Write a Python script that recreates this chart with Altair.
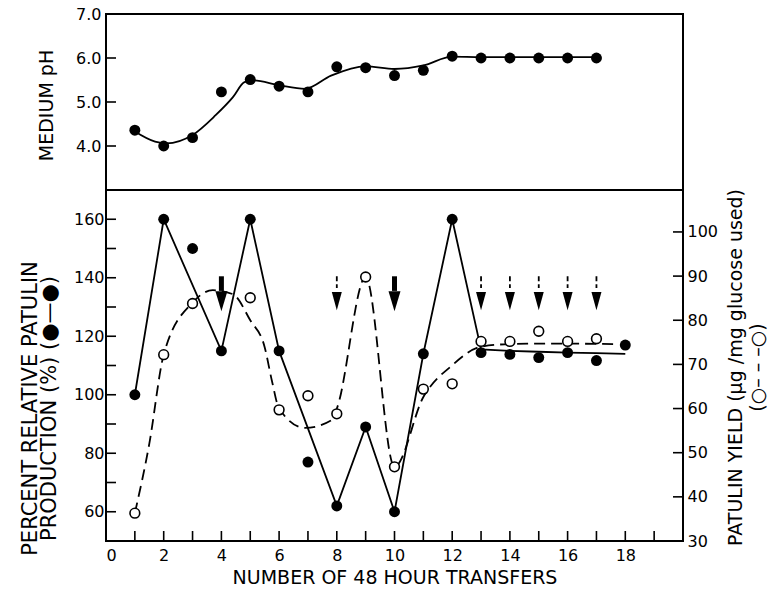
import altair as alt
import pandas as pd

# ---------------- data ----------------
ph_x = list(range(1, 18))
ph_vals = [4.36, 4.0, 4.19, 5.23, 5.51, 5.36, 5.23, 5.80, 5.78, 5.60, 5.72, 6.04, 6.0, 6.0, 6.0, 6.0, 6.0]
ph_curve_x = [1, 1.7, 2.1, 3, 3.8, 4.4, 4.8, 5.1, 6, 6.9, 7.8, 9, 10, 11, 12, 13, 14, 15, 16, 17]
ph_curve_y = [4.33, 4.10, 4.06, 4.25, 4.70, 5.11, 5.45, 5.49, 5.38, 5.30, 5.60, 5.81, 5.75, 5.83, 6.03, 6.02, 6.02, 6.02, 6.02, 6.02]

pct_x = list(range(1, 19))
pct_vals = [100, 160, 150, 115, 160, 115, 77, 62, 89, 60, 114, 160, 114.4, 113.8, 112.7, 114.4, 111.7, 117]
pct_line_x = [1, 2, 4, 5, 6, 8, 9, 10, 11, 12, 13, 14, 15, 16, 17, 18]
pct_line_y = [100, 160, 115, 160, 115, 62, 89, 60, 114, 160, 115.5, 115, 114.7, 114.4, 114.2, 114]

yield_x = [1, 2, 3, 5, 6, 7, 8, 9, 10, 11, 12, 13, 14, 15, 16, 17]
yield_vals = [36.3, 72.2, 83.8, 85.1, 59.7, 62.9, 58.8, 89.8, 46.8, 64.4, 65.6, 75.2, 75.2, 77.5, 75.2, 75.8]
yield_curve_x = [1, 1.5, 2, 3, 3.7, 4.4, 5, 5.5, 5.75, 6, 6.9, 7.8, 8, 9, 10, 11, 12, 13, 14, 15, 16, 17.6]
yield_curve_y = [36.3, 52, 72.2, 84, 86.8, 85.9, 80, 73.9, 66.3, 60, 55.6, 57.3, 60, 89.8, 46.8, 62.6, 69.8, 74, 74.6, 74.7, 74.7, 74.6]

bold_arrow_x = [4, 10]
dash_arrow_x = [8, 13, 14, 15, 16, 17]
arrow_top, arrow_base, arrow_head = 140.5, 135.5, 132.0

x_label_vals = list(range(0, 20))
x_tick_vals = list(range(1, 20))
pct_ticks = list(range(60, 170, 10))
yield_ticks = list(range(30, 110, 10))
ph_ticks = [4, 5, 6, 7]

XDOM = [0, 20]
PCT_DOM = [50, 170]
YLD_DOM = [30, 109.5]
PH_DOM = [3, 7]

# ---------------- frames ----------------
ph_pts = pd.DataFrame({"x": ph_x, "y": ph_vals})
ph_curve = pd.DataFrame({"x": ph_curve_x, "y": ph_curve_y})
pct_pts = pd.DataFrame({"x": pct_x, "y": pct_vals})
pct_line = pd.DataFrame({"x": pct_line_x, "y": pct_line_y})
yld_pts = pd.DataFrame({"x": yield_x, "y": yield_vals})
yld_curve = pd.DataFrame({"x": yield_curve_x, "y": yield_curve_y})
bold_arr = pd.DataFrame({"x": bold_arrow_x, "top": arrow_top, "base": arrow_base, "head": arrow_head})
dash_arr = pd.DataFrame({"x": dash_arrow_x, "top": arrow_top, "base": arrow_base + 1, "head": arrow_head})
# inward tick marks sit on the frame edges (domain limits)
x_tick_df = pd.DataFrame({"x": x_tick_vals, "y": PCT_DOM[0]})
pct_tick_df = pd.DataFrame({"x": XDOM[0], "y": pct_ticks})
yld_tick_df = pd.DataFrame({"x": XDOM[1], "y": yield_ticks})
ph_tick_df = pd.DataFrame({"x": XDOM[0], "y": ph_ticks})

FONT = "DejaVu Sans"
LBL = 16
TTL = 19

x_axis = alt.Axis(values=x_label_vals, labelExpr="datum.value % 2 == 0 && datum.value <= 18 ? datum.label : ''",
                  ticks=False, domain=False, grid=False,
                  labelPadding=6, labelFontSize=LBL, labelFont=FONT, labelColor="black",
                  title="NUMBER OF 48 HOUR TRANSFERS", titleFont=FONT, titleFontSize=TTL,
                  titleFontWeight="normal", titleColor="black", titlePadding=5)


def xenc(show=False):
    if show:
        return alt.X("x:Q", scale=alt.Scale(domain=XDOM, nice=False, zero=False), axis=x_axis)
    return alt.X("x:Q", scale=alt.Scale(domain=XDOM, nice=False, zero=False), axis=None)


TICK = dict(color="black", size=10, thickness=1.6, opacity=1)

# ---------------- top panel ----------------
ph_scale = alt.Scale(domain=PH_DOM, nice=False, zero=False)
ph_axis = alt.Axis(values=ph_ticks, format=".1f", ticks=False, domain=False, grid=False,
                   labelPadding=5, labelFontSize=LBL, labelFont=FONT,
                   labelColor="black", title="MEDIUM pH", titleFont=FONT, titleFontSize=TTL,
                   titleFontWeight="normal", titleColor="black", titleX=-60, titleY=91,
                   titleAngle=270, titleAlign="center", titleBaseline="middle")

top_line = alt.Chart(ph_curve).mark_line(color="black", strokeWidth=1.8, interpolate="monotone").encode(
    x=xenc(), y=alt.Y("y:Q", scale=ph_scale, axis=ph_axis))
top_pts = alt.Chart(ph_pts).mark_point(filled=True, color="black", size=120, opacity=1).encode(
    x=xenc(), y=alt.Y("y:Q", scale=ph_scale))
top_ticks = alt.Chart(ph_tick_df).mark_tick(orient="horizontal", xOffset=5, **TICK).encode(
    x=xenc(), y=alt.Y("y:Q", scale=ph_scale))
top = alt.layer(top_line, top_pts, top_ticks).properties(width=577, height=176)

# ---------------- bottom panel ----------------
pct_scale = alt.Scale(domain=PCT_DOM, nice=False, zero=False)
yld_scale = alt.Scale(domain=YLD_DOM, nice=False, zero=False)

pct_axis = alt.Axis(values=pct_ticks, labelExpr="datum.value % 20 == 0 ? datum.label : ''",
                    ticks=False, domain=False, grid=False,
                    labelPadding=2, labelFontSize=LBL, labelFont=FONT, labelColor="black",
                    title=["PERCENT RELATIVE PATULIN", "PRODUCTION (%) (\u25cf\u2014\u25cf)"],
                    titleFont=FONT, titleFontSize=21, titleFontWeight="normal", titleColor="black",
                    titleX=-76, titleY=218, titleAngle=270, titleAlign="center", titleBaseline="middle",
                    titleLineHeight=19)
yld_axis = alt.Axis(orient="right", values=yield_ticks, ticks=False, domain=False, grid=False,
                    labelPadding=4, labelFontSize=LBL, labelFont=FONT,
                    labelColor="black",
                    title=["PATULIN YIELD (\u03bcg /mg glucose used)", "(\u25cb\u2013 \u2013 \u2013\u25cb)"],
                    titleFont=FONT, titleFontSize=TTL, titleFontWeight="normal", titleColor="black",
                    titleX=52, titleY=177, titleAngle=270, titleAlign="center", titleBaseline="middle",
                    titleLineHeight=22)

solid_line = alt.Chart(pct_line).mark_line(color="black", strokeWidth=1.8).encode(
    x=xenc(True), y=alt.Y("y:Q", scale=pct_scale, axis=pct_axis))
solid_pts = alt.Chart(pct_pts).mark_point(filled=True, color="black", size=120, opacity=1).encode(
    x=xenc(True), y=alt.Y("y:Q", scale=pct_scale))
bold_shaft = alt.Chart(bold_arr).mark_rule(color="black", strokeWidth=5).encode(
    x=xenc(True), y=alt.Y("top:Q", scale=pct_scale), y2="base:Q")
bold_head = alt.Chart(bold_arr).mark_point(filled=True, color="black", opacity=1, size=400,
                                           shape="M-0.6,-1L0.6,-1L0,1Z").encode(
    x=xenc(True), y=alt.Y("head:Q", scale=pct_scale))
dash_shaft = alt.Chart(dash_arr).mark_rule(color="black", strokeWidth=1.8, strokeDash=[5, 3]).encode(
    x=xenc(True), y=alt.Y("top:Q", scale=pct_scale), y2="base:Q")
dash_head = alt.Chart(dash_arr).mark_point(filled=True, color="black", opacity=1, size=330,
                                           shape="M-0.55,-1L0.55,-1L0,1Z").encode(
    x=xenc(True), y=alt.Y("head:Q", scale=pct_scale))
xticks = alt.Chart(x_tick_df).mark_tick(orient="vertical", yOffset=-5, **TICK).encode(
    x=xenc(True), y=alt.Y("y:Q", scale=pct_scale))
lticks = alt.Chart(pct_tick_df).mark_tick(orient="horizontal", xOffset=5, **TICK).encode(
    x=xenc(True), y=alt.Y("y:Q", scale=pct_scale))
left = alt.layer(solid_line, solid_pts, bold_shaft, bold_head, dash_shaft, dash_head, xticks, lticks)

dash_line = alt.Chart(yld_curve).mark_line(color="black", strokeWidth=1.8, strokeDash=[11, 6],
                                           interpolate="monotone").encode(
    x=xenc(True), y=alt.Y("y:Q", scale=yld_scale, axis=yld_axis))
hollow_pts = alt.Chart(yld_pts).mark_point(filled=True, fill="white", stroke="black", strokeWidth=1.6,
                                           size=95, opacity=1).encode(
    x=xenc(True), y=alt.Y("y:Q", scale=yld_scale))
rticks = alt.Chart(yld_tick_df).mark_tick(orient="horizontal", xOffset=-5, **TICK).encode(
    x=xenc(True), y=alt.Y("y:Q", scale=yld_scale))
right = alt.layer(dash_line, hollow_pts, rticks)

bottom = alt.layer(left, right).resolve_scale(y="independent").properties(width=577, height=351)

chart = alt.vconcat(top, bottom, spacing=0, bounds="flush").properties(
    padding={"left": 18, "top": 5, "right": 0, "bottom": 0}, background="white"
).configure_view(stroke="black", strokeWidth=2)

chart.save("out.html", embed_options={"renderer": "svg", "actions": False})
